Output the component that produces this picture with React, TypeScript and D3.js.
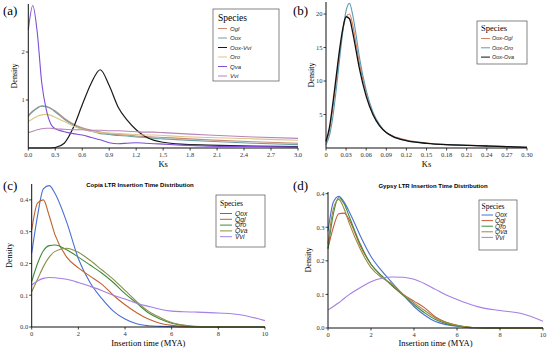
import * as d3 from 'd3';
import React from 'react';

// ---- (a) Ks distribution, paralogs + Oox-Vvi ----
const ksA = [0, 0.05, 0.1, 0.15, 0.2, 0.25, 0.3, 0.4, 0.5, 0.6, 0.7, 0.8, 0.9, 1.0, 1.1, 1.2, 1.3, 1.4, 1.5, 1.7, 2.0, 2.5, 3.0];
const oglA = [0.68, 0.77, 0.84, 0.88, 0.87, 0.83, 0.77, 0.62, 0.5, 0.42, 0.37, 0.33, 0.3, 0.28, 0.27, 0.25, 0.24, 0.23, 0.22, 0.2, 0.17, 0.13, 0.1];
const ooxA = [0.66, 0.76, 0.83, 0.87, 0.86, 0.82, 0.75, 0.6, 0.48, 0.4, 0.35, 0.3, 0.28, 0.26, 0.25, 0.23, 0.22, 0.2, 0.19, 0.17, 0.14, 0.1, 0.07];
const ooxVviA = [0, 0, 0, 0, 0, 0, 0.01, 0.1, 0.42, 0.9, 1.35, 1.63, 1.3, 0.85, 0.58, 0.38, 0.24, 0.16, 0.12, 0.08, 0.06, 0.04, 0.03];
const oroA = [0.55, 0.61, 0.66, 0.69, 0.7, 0.68, 0.64, 0.55, 0.46, 0.39, 0.35, 0.32, 0.31, 0.3, 0.29, 0.28, 0.27, 0.27, 0.26, 0.24, 0.22, 0.19, 0.16];
const qvaA = [2.46, 2.97, 2.4, 1.35, 0.8, 0.5, 0.4, 0.34, 0.3, 0.27, 0.22, 0.17, 0.11, 0.09, 0.1, 0.11, 0.1, 0.09, 0.08, 0.06, 0.04, 0.03, 0.02];
const vviA = [0.32, 0.35, 0.38, 0.4, 0.41, 0.41, 0.4, 0.39, 0.38, 0.38, 0.37, 0.37, 0.36, 0.36, 0.35, 0.34, 0.33, 0.33, 0.32, 0.3, 0.27, 0.23, 0.2];
const xTicksA = [0, 0.3, 0.6, 0.9, 1.2, 1.5, 1.8, 2.1, 2.4, 2.7, 3.0];
const yTicksA = [1, 2];

// ---- (b) Ks distribution, orthologs ----
const ksB = [0, 0.005, 0.01, 0.015, 0.02, 0.025, 0.03, 0.035, 0.04, 0.045, 0.05, 0.06, 0.07, 0.08, 0.09, 0.1, 0.12, 0.15, 0.18, 0.21, 0.24, 0.27, 0.3];
const ooxOvaB = [1, 3, 6.5, 10.5, 14.5, 17.8, 19.6, 19.3, 17.2, 14.5, 11.8, 7.7, 5.0, 3.3, 2.3, 1.7, 1.1, 0.7, 0.5, 0.4, 0.3, 0.2, 0.1];
const ooxOglB = [0.8, 2.5, 5.8, 9.8, 14, 17.5, 19.6, 20, 18.3, 15.5, 12.6, 8.2, 5.2, 3.4, 2.3, 1.8, 1.2, 0.75, 0.5, 0.4, 0.3, 0.2, 0.1];
const ooxOroB = [0.5, 1.8, 4.5, 8.5, 13, 17.3, 20.5, 21.6, 19.8, 16.8, 13.5, 8.6, 5.4, 3.5, 2.3, 1.7, 1.1, 0.7, 0.5, 0.4, 0.3, 0.2, 0.1];
const xTicksB = [0, 0.03, 0.06, 0.09, 0.12, 0.15, 0.18, 0.21, 0.24, 0.27, 0.3];
const yTicksB = [5, 10, 15, 20];

// ---- (c) Copia LTR insertion time ----
const timeC = [0, 0.25, 0.5, 0.75, 1, 1.5, 2, 2.5, 3, 3.5, 4, 4.5, 5, 5.5, 6, 6.5, 7, 8, 9, 10];
const qoxC = [0.232, 0.35, 0.435, 0.445, 0.42, 0.33, 0.215, 0.14, 0.09, 0.05, 0.025, 0.01, 0.004, 0.002, 0.001, 0, 0, 0, 0, 0];
const qglC = [0.305, 0.39, 0.4, 0.35, 0.29, 0.22, 0.186, 0.16, 0.135, 0.1, 0.07, 0.045, 0.025, 0.012, 0.005, 0.002, 0.001, 0, 0, 0];
const qroC = [0.143, 0.2, 0.24, 0.256, 0.258, 0.243, 0.22, 0.195, 0.17, 0.14, 0.105, 0.075, 0.045, 0.025, 0.012, 0.005, 0.001, 0, 0, 0];
const qvaC = [0.111, 0.15, 0.19, 0.22, 0.238, 0.248, 0.235, 0.21, 0.18, 0.15, 0.115, 0.08, 0.05, 0.03, 0.014, 0.006, 0.002, 0, 0, 0];
const vviC = [0.132, 0.145, 0.153, 0.156, 0.155, 0.15, 0.14, 0.128, 0.115, 0.1, 0.088, 0.075, 0.065, 0.056, 0.05, 0.048, 0.047, 0.044, 0.038, 0.02];
const xTicksC = [0, 2, 4, 6, 8, 10];
const yTicksC = [0, 0.1, 0.2, 0.3, 0.4];

// ---- (d) Gypsy LTR insertion time ----
const timeD = [0, 0.25, 0.5, 0.75, 1, 1.5, 2, 2.5, 3, 3.5, 4, 4.5, 5, 5.5, 6, 6.5, 7, 8, 9, 10];
const qoxD = [0.288, 0.375, 0.392, 0.375, 0.345, 0.275, 0.213, 0.17, 0.134, 0.098, 0.064, 0.038, 0.019, 0.01, 0.005, 0.002, 0.001, 0, 0, 0];
const qglD = [0.238, 0.3, 0.34, 0.342, 0.32, 0.245, 0.19, 0.155, 0.125, 0.1, 0.08, 0.06, 0.033, 0.017, 0.008, 0.003, 0.001, 0, 0, 0];
const qroD = [0.235, 0.34, 0.388, 0.37, 0.33, 0.25, 0.19, 0.155, 0.125, 0.097, 0.07, 0.045, 0.025, 0.013, 0.006, 0.002, 0.001, 0, 0, 0];
const qvaD = [0.25, 0.355, 0.383, 0.355, 0.31, 0.235, 0.18, 0.15, 0.13, 0.1, 0.075, 0.052, 0.03, 0.016, 0.008, 0.003, 0.001, 0, 0, 0];
const vviD = [0.054, 0.064, 0.075, 0.088, 0.1, 0.12, 0.138, 0.148, 0.152, 0.151, 0.145, 0.132, 0.115, 0.098, 0.085, 0.073, 0.063, 0.052, 0.043, 0.02];
const xTicksD = [0, 2, 4, 6, 8, 10];
const yTicksD = [0, 0.1, 0.2, 0.3, 0.4];

const serif = '"Liberation Serif", "Times New Roman", serif';
const sans = '"Liberation Sans", Arial, sans-serif';

type Series = { name: string; color: string; values: number[]; width?: number };
type Legend = { x: number; y: number; w: number; h: number; titleY: number; rowY: number; rowGap: number; line: [number, number]; textX: number; titleSize: number; itemSize: number };

type PanelProps = {
  tag: string; tagX: number; tagY: number;
  title?: string; titleX?: number; titleY?: number;
  xs: number[]; series: Series[];
  xDomain: [number, number]; xRange: [number, number];
  yDomain: [number, number]; yRange: [number, number];
  xTicks: number[]; xFmt: (v: number) => string;
  yTicks: number[]; yFmt: (v: number) => string;
  xLabel: string; xLabelY: number; yLabelX: number;
  legend: Legend;
};

function Panel(p: PanelProps) {
  const x = d3.scaleLinear().domain(p.xDomain).range(p.xRange);
  const y = d3.scaleLinear().domain(p.yDomain).range(p.yRange);
  const line = d3.line<number>()
    .x((_, i) => x(p.xs[i]))
    .y(d => y(d))
    .curve(d3.curveMonotoneX);
  const [x0, x1] = p.xRange;
  const [yb, yt] = p.yRange;
  const lg = p.legend;
  return (
    <g>
      <text x={p.tagX} y={p.tagY} fontFamily={serif} fontSize={13}>{p.tag}</text>
      {p.title && (
        <text x={p.titleX} y={p.titleY} textAnchor="middle" fontFamily={sans} fontWeight="bold" fontSize={6}>{p.title}</text>
      )}
      {p.series.map(s => (
        <path key={s.name} d={line(s.values) || ''} fill="none" stroke={s.color} strokeWidth={s.width ?? 1.1} />
      ))}
      <line x1={x0} x2={x1} y1={yb} y2={yb} stroke="#111" strokeWidth={1} />
      <line x1={x0} x2={x0} y1={yb} y2={yt} stroke="#111" strokeWidth={1} />
      {p.xTicks.map(t => (
        <g key={'x' + t} transform={`translate(${x(t)},${yb})`}>
          <line y2={2.5} stroke="#111" strokeWidth={0.8} />
          <text y={8.5} textAnchor="middle" fontFamily={serif} fontSize={6.5} fill="#333">{p.xFmt(t)}</text>
        </g>
      ))}
      {p.yTicks.map(t => (
        <g key={'y' + t} transform={`translate(${x0},${y(t)})`}>
          <line x2={-2.5} stroke="#111" strokeWidth={0.8} />
          <text x={-3.5} dy="0.35em" textAnchor="end" fontFamily={serif} fontSize={6.5} fill="#333">{p.yFmt(t)}</text>
        </g>
      ))}
      <text x={(x0 + x1) / 2} y={p.xLabelY} textAnchor="middle" fontFamily={serif} fontSize={8.5}>{p.xLabel}</text>
      <text transform={`translate(${p.yLabelX},${(yb + yt) / 2}) rotate(-90)`} textAnchor="middle" fontFamily={serif} fontSize={8}>Density</text>
      <rect x={lg.x} y={lg.y} width={lg.w} height={lg.h} fill="#fff" stroke="#666" strokeWidth={0.8} />
      <text x={lg.line[0]} y={lg.titleY} fontFamily={serif} fontSize={lg.titleSize}>Species</text>
      {p.series.map((s, i) => {
        const cy = lg.rowY + i * lg.rowGap;
        return (
          <g key={'l' + s.name}>
            <line x1={lg.line[0]} x2={lg.line[1]} y1={cy} y2={cy} stroke={s.color} strokeWidth={1} />
            <text x={lg.textX} y={cy} dy="0.35em" fontFamily={sans} fontStyle="italic" fontSize={lg.itemSize} fill="#222">{s.name}</text>
          </g>
        );
      })}
    </g>
  );
}

export default function App() {
  const seriesA: Series[] = [
    { name: 'Ogl', color: '#c98a78', values: oglA },
    { name: 'Oox', color: '#6f9fa6', values: ooxA },
    { name: 'Oox-Vvi', color: '#1a1a1a', values: ooxVviA, width: 1.2 },
    { name: 'Oro', color: '#dcc584', values: oroA },
    { name: 'Qva', color: '#7f4fd6', values: qvaA },
    { name: 'Vvi', color: '#b784b8', values: vviA },
  ];
  const seriesB: Series[] = [
    { name: 'Oox-Ogl', color: '#d9825f', values: ooxOglB },
    { name: 'Oox-Oro', color: '#5d9cb6', values: ooxOroB },
    { name: 'Oox-Ova', color: '#111111', values: ooxOvaB, width: 1.3 },
  ];
  const seriesC: Series[] = [
    { name: 'Qox', color: '#4a6fd4', values: qoxC },
    { name: 'Qgl', color: '#c0622e', values: qglC },
    { name: 'Qro', color: '#3f8a3f', values: qroC },
    { name: 'Qva', color: '#8a8f45', values: qvaC },
    { name: 'Vvi', color: '#a57fe4', values: vviC },
  ];
  const seriesD: Series[] = [
    { name: 'Qox', color: '#4a6fd4', values: qoxD },
    { name: 'Qgl', color: '#c95a3a', values: qglD },
    { name: 'Qro', color: '#3f8a3f', values: qroD },
    { name: 'Qva', color: '#9a8a3e', values: qvaD },
    { name: 'Vvi', color: '#a57fe4', values: vviD },
  ];
  return (
    <svg width={550} height={349} style={{ position: 'absolute', left: 0, top: 0, background: '#fff' }}>
      <rect width={550} height={349} fill="#fff" />
      <Panel tag="(a)" tagX={3} tagY={15}
        xs={ksA} series={seriesA}
        xDomain={[0, 3]} xRange={[28.3, 298]} yDomain={[0, 3]} yRange={[148, 4]}
        xTicks={xTicksA} xFmt={d3.format('.1f')} yTicks={yTicksA} yFmt={d3.format('d')}
        xLabel="Ks" xLabelY={167} yLabelX={17}
        legend={{ x: 213, y: 9, w: 66, h: 72, titleY: 21, rowY: 28.5, rowGap: 9.5, line: [218, 227], textX: 230, titleSize: 9.5, itemSize: 6 }} />
      <Panel tag="(b)" tagX={293} tagY={15}
        xs={ksB} series={seriesB}
        xDomain={[0, 0.3]} xRange={[326, 527]} yDomain={[0, 21.8]} yRange={[148, 2]}
        xTicks={xTicksB} xFmt={v => (v === 0 ? '0' : v.toFixed(2))} yTicks={yTicksB} yFmt={d3.format('d')}
        xLabel="Ks" xLabelY={167} yLabelX={314}
        legend={{ x: 477, y: 21, w: 50, h: 43, titleY: 31, rowY: 38.5, rowGap: 9.3, line: [481, 490], textX: 492, titleSize: 8.5, itemSize: 5.5 }} />
      <Panel tag="(c)" tagX={3} tagY={190}
        title="Copia LTR Insertion Time Distribution" titleX={140} titleY={187}
        xs={timeC} series={seriesC}
        xDomain={[0, 10]} xRange={[31.7, 265]} yDomain={[0, 0.45]} yRange={[327, 184]}
        xTicks={xTicksC} xFmt={d3.format('d')} yTicks={yTicksC} yFmt={d3.format('.1f')}
        xLabel="Insertion time (MYA)" xLabelY={346} yLabelX={12}
        legend={{ x: 216, y: 195, w: 49, h: 52, titleY: 206, rowY: 213.5, rowGap: 5.8, line: [220, 232], textX: 235, titleSize: 7.5, itemSize: 6.8 }} />
      <Panel tag="(d)" tagX={293} tagY={190}
        title="Gypsy LTR Insertion Time Distribution" titleX={433} titleY={188}
        xs={timeD} series={seriesD}
        xDomain={[0, 10]} xRange={[328, 543]} yDomain={[0, 0.405]} yRange={[328, 192]}
        xTicks={xTicksD} xFmt={d3.format('d')} yTicks={yTicksD} yFmt={d3.format('.1f')}
        xLabel="Insertion time (MYA)" xLabelY={346} yLabelX={311}
        legend={{ x: 479, y: 200, w: 38, h: 50, titleY: 208.5, rowY: 215, rowGap: 5.6, line: [481.5, 493], textX: 495, titleSize: 7.5, itemSize: 6.6 }} />
    </svg>
  );
}
